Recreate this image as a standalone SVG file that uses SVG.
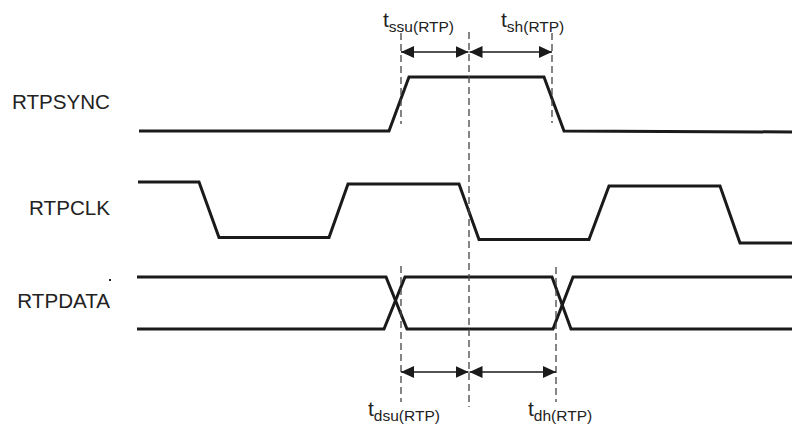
<svg xmlns="http://www.w3.org/2000/svg" width="792" height="428" viewBox="0 0 792 428">
<style>
.sig{fill:none;stroke:#1a1a1a;stroke-width:3;stroke-linejoin:miter}
.dash{fill:none;stroke:#444;stroke-width:1.3;stroke-dasharray:7 4}
.arr{fill:none;stroke:#1a1a1a;stroke-width:1.5;marker-start:url(#ah);marker-end:url(#ah)}
.lbl{font-family:"Liberation Sans",Arial,sans-serif;font-size:20.6px;fill:#222}
.t{font-family:"Liberation Sans",Arial,sans-serif;font-size:21px;fill:#222}
.sub{font-size:15.5px}
</style>
<defs>
<marker id="ah" markerUnits="userSpaceOnUse" markerWidth="13" markerHeight="12" refX="13" refY="6" orient="auto-start-reverse">
<path d="M0,0 L13,6 L0,12 Z" fill="#1a1a1a"/>
</marker>
</defs>
<rect width="792" height="428" fill="#fff"/>
<g id="labels">
<text class="lbl" x="110" y="109" text-anchor="end">RTPSYNC</text>
<text class="lbl" x="110" y="215" text-anchor="end">RTPCLK</text>
<text class="lbl" x="110" y="308" text-anchor="end">RTPDATA</text>
<rect x="109" y="279" width="2" height="2" fill="#222"/>
</g>
<g id="rtpsync">
<path class="sig" d="M139,131 H389 L409,77 H544 L564,131 L792,132"/>
</g>
<g id="rtpclk">
<path class="sig" d="M138,182 H199 L219,237.5 H329 L348,184 H459 L479,239.5 H589 L609,186 H720 L740,243 H792"/>
</g>
<g id="rtpdata">
<path class="sig" d="M137,277 H386 L407,329 H553 L573,277 H792"/>
<path class="sig" d="M137,329 H384 L405,277 H552 L571,329 H792"/>
</g>
<g id="connectors">
<line class="dash" x1="401" y1="33" x2="401" y2="124"/>
<line class="dash" x1="469" y1="32" x2="469" y2="407"/>
<line class="dash" x1="552" y1="33" x2="552" y2="123"/>
<line class="dash" x1="401" y1="266" x2="401" y2="402"/>
<line class="dash" x1="556" y1="267" x2="556" y2="402"/>
<line class="arr" x1="401" y1="52" x2="468.5" y2="52"/>
<line class="arr" x1="469.5" y1="52" x2="552" y2="52"/>
<line class="arr" x1="401" y1="372" x2="468.5" y2="372"/>
<line class="arr" x1="469.5" y1="372" x2="556" y2="372"/>
</g>
<g id="timing-labels">
<text class="t" x="383" y="27">t<tspan class="sub" dy="5">ssu(RTP)</tspan></text>
<text class="t" x="501" y="27">t<tspan class="sub" dy="5">sh(RTP)</tspan></text>
<text class="t" x="368" y="416">t<tspan class="sub" dy="5">dsu(RTP)</tspan></text>
<text class="t" x="528" y="416">t<tspan class="sub" dy="5">dh(RTP)</tspan></text>
</g>
</svg>
